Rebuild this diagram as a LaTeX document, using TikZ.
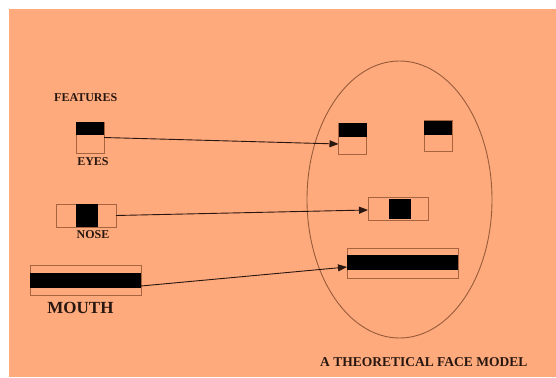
\documentclass[tikz,border=0pt]{standalone}
\usepackage{fontspec}
\setmainfont{Liberation Serif}
\usetikzlibrary{arrows.meta,shapes.geometric}
\definecolor{bgorange}{RGB}{255,170,124}
\definecolor{boxline}{RGB}{168,100,62}
\definecolor{faceline}{RGB}{150,92,58}
\definecolor{ink}{RGB}{40,22,16}
\begin{document}
\begin{tikzpicture}[x=1pt,y=-1pt,
  featbox/.style={draw=boxline,line width=0.9pt,inner sep=0pt,outer sep=0pt,rectangle},
  eyebox/.style={featbox,minimum width=28pt,minimum height=31pt},
  nosebox/.style={featbox,minimum width=60pt,minimum height=23pt},
  mouthbox/.style={featbox,minimum width=111pt,minimum height=30pt},
  label/.style={text=ink,font=\bfseries\fontsize{12}{14}\selectfont,inner sep=0pt},
  link/.style={draw=ink,line width=0.9pt,-{Triangle[length=9pt,width=7pt]}}]
% page and orange card
\fill[white] (0,0) rectangle (556,377);
\useasboundingbox (0,0) rectangle (556,377);
\fill[bgorange] (9,9) rectangle (556,377);

% face outline
\node[ellipse,draw=faceline,line width=0.9pt,minimum width=185pt,minimum height=277pt,inner sep=0pt] (face) at (399.5,199.5) {};

% feature catalogue on the left
\node[label,anchor=west] (features) at (54,98) {FEATURES};
\node[eyebox] (eyeA) at (90,137.5) {};
\fill[black] ([shift={(0.45pt,-0.45pt)}]eyeA.north west) rectangle ([yshift=-13pt]eyeA.north east);
\node[label] (eyesLbl) at (93,162) {EYES};

\node[nosebox] (noseA) at (86,215.5) {};
\fill[black] ([xshift=20pt]noseA.north west) rectangle ([xshift=42pt]noseA.south west);
\node[label] (noseLbl) at (93,235) {NOSE};

\node[mouthbox] (mouthA) at (85.5,280) {};
\fill[black] ([yshift=-8pt]mouthA.north west) rectangle ([yshift=7pt]mouthA.south east);
\node[text=ink,font=\bfseries\fontsize{17}{20}\selectfont,inner sep=0pt] (mouthLbl) at (80.5,308) {MOUTH};

% features placed inside the face
\node[eyebox] (eyeL) at (352.5,138.5) {};
\fill[black] (eyeL.north west) rectangle ([yshift=-14pt]eyeL.north east);
\node[eyebox] (eyeR) at (438,136) {};
\fill[black] (eyeR.north west) rectangle ([yshift=-14pt]eyeR.north east);

\node[nosebox] (noseB) at (398,208.5) {};
\fill[black] ([xshift=21pt,yshift=-2pt]noseB.north west) rectangle ([xshift=43pt,yshift=1pt]noseB.south west);

\node[mouthbox] (mouthB) at (402.5,263) {};
\fill[black] ([yshift=-7pt]mouthB.north west) rectangle ([yshift=8pt]mouthB.south east);

% connectors
\draw[link] (eyeA.east) -- ([yshift=-5.5pt]eyeL.west);
\draw[link] (noseA.east) -- ([yshift=-1.5pt]noseB.west);
\draw[link] ([yshift=-6pt]mouthA.east) -- ([yshift=-4pt]mouthB.west);

% caption
\node[label,font=\bfseries\fontsize{13.5}{16}\selectfont,anchor=west] (caption) at (320,362) {A THEORETICAL FACE MODEL};
\end{tikzpicture}
\end{document}
